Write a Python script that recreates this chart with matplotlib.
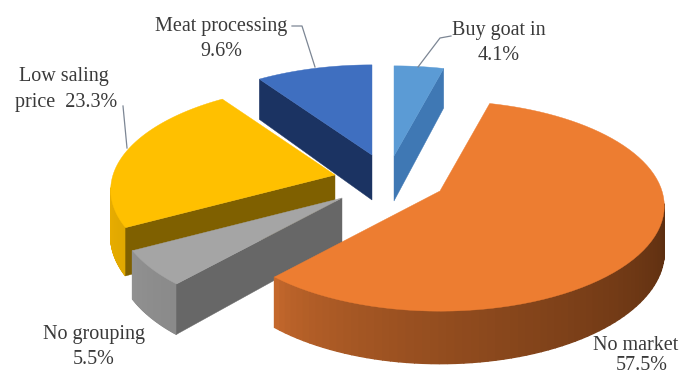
import matplotlib
matplotlib.use("Agg")
import matplotlib.pyplot as plt
import matplotlib.colors as mcolors
import numpy as np

# clockwise from 12 o'clock, as in the chart
categories = ["Buy goat in", "No market", "No grouping", "Low saling price", "Meat processing"]
shares = [4.1, 57.5, 5.5, 23.3, 9.6]

top_colors = ["#5b9bd5", "#ed7d31", "#a5a5a5", "#ffc000", "#3f6fc0"]
cut_colors = ["#3f78b4", None, "#676767", "#7f6000", "#1b3362"]
cut_at_end = [True, False, False, False, False]
rim_colors = [None, ("#c4682c", "#5c2e10"), ("#929292", "#8a8a8a"), ("#eeb000", "#e0a800"), None]

# where each exploded slice's point sits, picture pixels
apex = {
    "Buy goat in": (394, 156),
    "No market": (440, 191),
    "No grouping": (342, 198),
    "Low saling price": (335, 175),
    "Meat processing": (372, 155),
}

RX, RY, PERSP, DEPTH = 222, 103, 1 / 7, 45
TEXT_COLOR = "#3a3a3a"
LEADER = "#7c8694"

plt.rcParams["font.family"] = ["Liberation Serif", "DejaVu Serif"]


def project(name, theta, lower=False):
    theta = np.radians(theta)
    w = 1 + PERSP * np.sin(theta)
    x0, y0 = apex[name]
    y = y0 - RY * np.sin(theta) / w
    if lower:
        y = y + DEPTH / w
    return x0 + RX * np.cos(theta) / w, y


def centre(name, lower=False):
    x0, y0 = apex[name]
    return x0, y0 + (DEPTH if lower else 0)


fig = plt.figure(figsize=(6.83, 3.76), dpi=100)
ax = fig.add_axes([0, 0, 1, 1])
ax.set_xlim(0, 683)
ax.set_ylim(376, 0)
ax.axis("off")

starts = 90 - 3.6 * np.concatenate([[0], np.cumsum(shares)[:-1]])
ends = starts - 3.6 * np.array(shares)

for i in [4, 0, 3, 2, 1]:
    name = categories[i]
    s, e = starts[i], ends[i]

    # outer rim, front-facing part only
    if rim_colors[i] is not None:
        c0 = np.array(mcolors.to_rgb(rim_colors[i][0]))
        c1 = np.array(mcolors.to_rgb(rim_colors[i][1]))
        a_from = min(s, -7) if name == "No market" else s
        a_to = max(e, -132) if name == "No market" else e
        if name == "Low saling price":
            a_from, a_to = -151.6, -173
        steps = np.linspace(a_to, a_from, 70) if a_from > a_to else np.linspace(a_from, a_to, 70)
        for k in range(len(steps) - 1):
            a, b = steps[k], steps[k + 1]
            pts = [project(name, a), project(name, b), project(name, b, True), project(name, a, True)]
            col = c0 + (c1 - c0) * (k / (len(steps) - 2)) ** 0.7
            ax.fill(*zip(*pts), color=col, lw=1.0)

    # flat cut face
    if cut_colors[i] is not None:
        edge = e if cut_at_end[i] else s
        pts = [centre(name), project(name, edge), project(name, edge, True), centre(name, True)]
        ax.fill(*zip(*pts), color=cut_colors[i], lw=0.3)

    # top surface
    arc = np.linspace(s, e, 80)
    pts = [centre(name)] + [project(name, t) for t in arc]
    ax.fill(*zip(*pts), color=top_colors[i], lw=0.3)

# leader lines
ax.plot([418, 440, 451], [67, 38, 36], color=LEADER, lw=0.9)
ax.plot([315, 302, 292], [67, 26, 26], color=LEADER, lw=0.9)
ax.plot([127, 123], [148, 106], color=LEADER, lw=0.9)

labels = [
    ("Buy goat in", 499, 31), ("4.1%", 499, 55),
    ("Meat processing", 221, 27), ("9.6%", 221, 52),
    ("Low saling", 64, 77), ("price  23.3%", 66, 103),
    ("No grouping", 94, 335), ("5.5%", 94, 359),
    ("No market", 636, 345), ("57.5%", 642, 365),
]
for txt, x, y in labels:
    ax.text(x, y, txt, ha="center", va="center", fontsize=14.5, color=TEXT_COLOR)

fig.savefig("out.png", dpi=100)
